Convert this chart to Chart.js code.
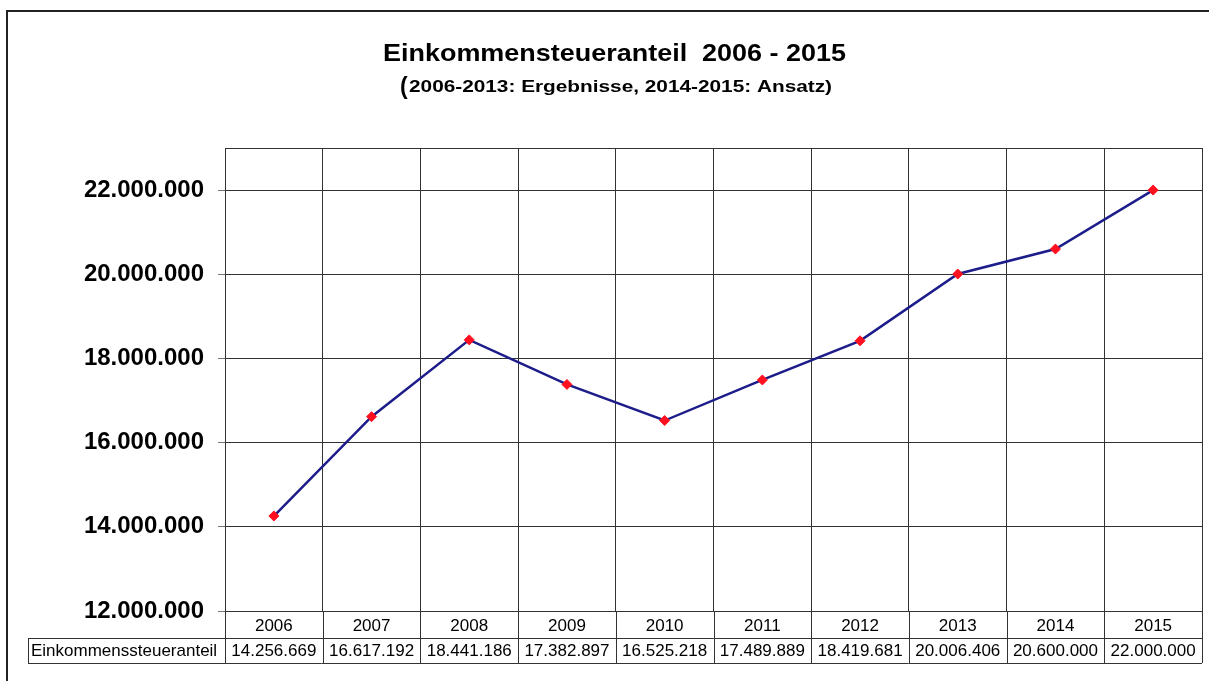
<!DOCTYPE html>
<html>
<head>
<meta charset="utf-8">
<script src="https://cdn.jsdelivr.net/npm/chart.js@4.4.0/dist/chart.umd.min.js"></script>
<style>
  body { margin: 0; background: #fff; }
  #wrap { width: 1209px; height: 681px; }
</style>
</head>
<body>
<div id="wrap"><canvas id="myChart" width="1209" height="681"></canvas></div>
<script>
const years = ['2006', '2007', '2008', '2009', '2010', '2011', '2012', '2013', '2014', '2015'];
const einkommensteuer = [14256669, 16617192, 18441186, 17382897, 16525218, 17489889, 18419681, 20006406, 20600000, 22000000];
const yTicks = [12000000, 14000000, 16000000, 18000000, 20000000, 22000000];
const yMax = 23000000;
const seriesName = 'Einkommenssteueranteil';
const titleText = 'Einkommensteueranteil  2006 - 2015';
const subtitleText = '2006-2013: Ergebnisse, 2014-2015: Ansatz)';

const FONT = "'Liberation Sans', Arial, sans-serif";

function fmt(v) {
    return String(Math.round(v)).replace(/\B(?=(\d{3})+(?!\d))/g, '.');
}

// draw text squeezed/stretched to a given width (the original looks wider)
function drawFitted(ctx, text, font, x, y, width, align) {
    ctx.save();
    ctx.font = font;
    const w = ctx.measureText(text).width;
    const sx = width / w;
    ctx.translate(x, y);
    ctx.scale(sx, 1);
    ctx.textAlign = align || 'left';
    ctx.textBaseline = 'alphabetic';
    ctx.fillText(text, 0, 0);
    ctx.restore();
}

const decorations = {
    id: 'decorations',
    beforeDraw(chart) {
        const ctx = chart.ctx;
        ctx.save();
        ctx.fillStyle = '#fff';
        ctx.fillRect(0, 0, chart.width, chart.height);
        ctx.strokeStyle = '#222';
        ctx.lineWidth = 2;
        ctx.strokeRect(7, 11, 1215, 700);
        ctx.restore();
    },
    afterDraw(chart) {
        const ctx = chart.ctx;
        const xs = chart.scales.x;
        const area = chart.chartArea;
        const colW = (area.right - area.left) / years.length;
        const rowTop = area.bottom, rowMid = 638, rowBot = 663;

        ctx.save();
        ctx.fillStyle = '#000';
        // title
        drawFitted(ctx, titleText, 'bold 24px ' + FONT, 383, 61, 463, 'left');
        ctx.font = 'bold 23px ' + FONT;
        ctx.textAlign = 'left';
        ctx.fillText('(', 400, 94);
        drawFitted(ctx, subtitleText, 'bold 16px ' + FONT, 409, 92, 423, 'left');

        // data table
        ctx.strokeStyle = '#333';
        ctx.lineWidth = 1;
        ctx.beginPath();
        ctx.moveTo(area.left, rowMid + 0.5); ctx.lineTo(area.right, rowMid + 0.5);
        ctx.moveTo(28, rowBot + 0.5); ctx.lineTo(area.right, rowBot + 0.5);
        ctx.moveTo(28, rowMid + 0.5); ctx.lineTo(area.left, rowMid + 0.5);
        ctx.moveTo(28.5, rowMid); ctx.lineTo(28.5, rowBot);
        for (let i = 0; i <= years.length; i++) {
            const bx = Math.round(xs.getPixelForValue(0) - colW / 2 + i * colW) + 0.5;
            ctx.moveTo(bx, rowTop); ctx.lineTo(bx, rowBot);
        }
        ctx.stroke();

        ctx.font = '17px ' + FONT;
        ctx.textBaseline = 'middle';
        ctx.textAlign = 'center';
        years.forEach((y, i) => {
            const cx = xs.getPixelForValue(i);
            ctx.fillText(y, cx, (rowTop + rowMid) / 2 + 2);
            ctx.fillText(fmt(einkommensteuer[i]), cx, (rowMid + rowBot) / 2 + 1);
        });
        ctx.textAlign = 'left';
        ctx.fillText(seriesName, 31, (rowMid + rowBot) / 2 + 1);
        ctx.restore();
    }
};

const ctx = document.getElementById('myChart').getContext('2d');
const myChart = new Chart(ctx, {
    type: 'line',
    data: {
        labels: years,
        datasets: [{
            label: seriesName,
            data: einkommensteuer,
            borderColor: '#1c1c8a',
            borderWidth: 2.5,
            tension: 0,
            pointStyle: 'rectRot',
            pointRadius: 5,
            pointBackgroundColor: '#ff1020',
            pointBorderColor: '#ff1020',
            pointBorderWidth: 1,
        }]
    },
    options: {
        responsive: false,
        animation: false,
        devicePixelRatio: 1,
        layout: { padding: { left: 0, right: 7, top: 148, bottom: 0 } },
        plugins: {
            legend: { display: false },
            tooltip: { enabled: false },
            title: { display: false }
        },
        scales: {
            x: {
                type: 'category',
                offset: true,
                grid: { offset: true, color: '#333', lineWidth: 1, drawTicks: false },
                border: { color: '#333', width: 1 },
                ticks: { display: false },
                afterFit(scale) { scale.height = 70; }
            },
            y: {
                min: yTicks[0],
                max: yMax,
                grid: {
                    color: '#333',
                    lineWidth: 1,
                    tickLength: 7,
                    tickColor: c => (c.tick && c.tick.value > yTicks[yTicks.length - 1] ? 'rgba(0,0,0,0)' : '#777')
                },
                border: { color: '#333', width: 1 },
                ticks: {
                    padding: 14,
                    color: '#000',
                    autoSkip: false,
                    font: { family: FONT, size: 24, weight: 'bold' },
                    callback: v => (yTicks.includes(v) ? fmt(v) : '')
                },
                afterBuildTicks(scale) {
                    scale.ticks = yTicks.concat([yMax]).map(v => ({ value: v }));
                },
                afterFit(scale) { scale.width = 225; }
            }
        }
    },
    plugins: [decorations]
});
</script>
</body>
</html>
